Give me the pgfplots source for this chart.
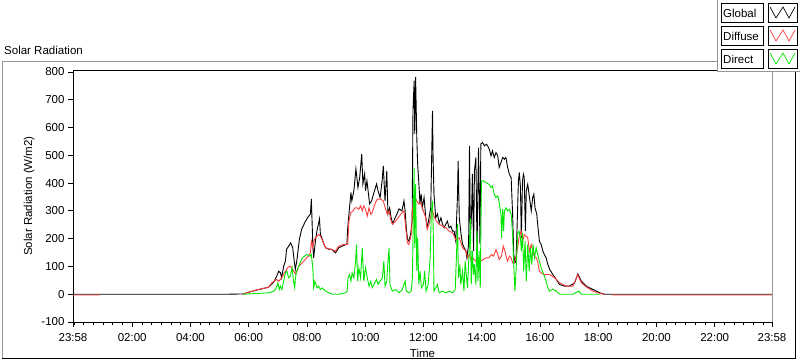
\documentclass[border=0pt]{standalone}
\usepackage{pgfplots}
\pgfplotsset{compat=1.18}
\usepackage{fontspec}
\setmainfont{Liberation Sans}
\definecolor{lvred}{RGB}{255,60,60}
\definecolor{lvgreen}{RGB}{0,230,0}
\definecolor{framegray}{RGB}{150,150,150}

\pgfplotstableread{
h v
-0.0333 0
5.30 0
5.82 1
5.99 7
6.34 17
6.68 25
6.86 44
6.96 65
7.03 83
7.09 77
7.13 59
7.20 101
7.26 119
7.30 162
7.37 173
7.44 185
7.51 167
7.57 113
7.60 90
7.65 119
7.74 198
7.82 235
7.95 263
8.04 278
8.12 289
8.15 343
8.20 180
8.23 131
8.29 191
8.34 227
8.43 271
8.46 217
8.51 203
8.58 180
8.64 167
8.75 162
8.85 162
8.98 149
9.09 167
9.20 173
9.37 180
9.40 239
9.46 311
9.51 366
9.54 336
9.61 372
9.68 451
9.75 384
9.81 420
9.88 505
9.92 397
9.98 433
10.01 372
10.06 408
10.15 325
10.22 336
10.30 366
10.39 397
10.44 372
10.51 348
10.58 408
10.62 462
10.68 336
10.74 444
10.78 289
10.84 311
10.89 275
10.95 253
11.01 271
11.09 289
11.16 307
11.26 300
11.33 336
11.37 300
11.41 239
11.45 198
11.50 191
11.56 217
11.61 263
11.64 660
11.68 769
11.70 577
11.73 781
11.77 564
11.80 469
11.85 384
11.88 325
11.92 361
11.96 311
12.02 348
12.08 275
12.13 239
12.19 275
12.25 311
12.31 660
12.33 492
12.36 361
12.42 275
12.48 289
12.54 257
12.60 275
12.65 253
12.71 239
12.77 253
12.82 263
12.88 239
12.94 245
13.00 227
13.05 227
13.11 191
13.17 361
13.19 480
13.23 275
13.29 217
13.34 180
13.40 167
13.46 155
13.49 131
13.55 180
13.58 534
13.61 203
13.65 289
13.68 433
13.72 155
13.75 444
13.80 492
13.84 155
13.87 397
13.89 528
13.94 180
13.97 541
14.03 546
14.09 534
14.17 540
14.26 522
14.32 498
14.37 516
14.43 492
14.49 510
14.55 498
14.60 456
14.66 474
14.72 492
14.78 486
14.83 492
14.89 456
14.95 432
15.01 420
15.06 289
15.10 144
15.14 113
15.18 119
15.21 227
15.26 408
15.29 438
15.33 384
15.36 203
15.40 408
15.43 432
15.46 420
15.50 227
15.53 372
15.58 396
15.64 348
15.70 300
15.75 348
15.79 360
15.83 311
15.89 288
15.92 253
15.98 191
16.04 179
16.10 155
16.15 143
16.21 131
16.27 107
16.33 90
16.44 71
16.56 53
16.67 35
16.84 29
17.01 29
17.19 41
17.30 73
17.42 47
17.59 29
17.82 17
18.05 5
18.22 0
23.9667 0
}\globaldata

\pgfplotstableread{
h v
-0.0333 -3
0.90 -3
nan nan
5.82 1
5.99 7
6.34 17
6.68 25
6.79 41
6.96 53
7.03 47
7.13 59
7.26 83
7.35 97
7.43 101
7.49 93
7.55 83
7.60 73
7.66 83
7.72 101
7.83 112
7.95 126
8.06 139
8.12 149
8.15 191
8.20 167
8.23 191
8.29 203
8.35 209
8.40 215
8.46 209
8.52 197
8.64 167
8.86 161
8.98 155
9.09 173
9.27 179
9.40 179
9.44 263
9.50 293
9.58 300
9.65 311
9.72 311
9.78 306
9.84 318
9.90 300
9.95 318
10.01 306
10.07 281
10.13 311
10.19 288
10.24 293
10.33 324
10.41 342
10.53 342
10.62 336
10.70 306
10.76 288
10.82 300
10.87 270
10.93 252
11.05 263
11.22 288
11.33 300
11.39 239
11.45 185
11.50 179
11.58 215
11.64 324
11.70 348
11.77 336
11.85 324
11.90 329
11.96 311
12.08 275
12.13 234
12.19 252
12.25 281
12.31 300
12.36 281
12.44 263
12.54 252
12.65 245
12.77 239
12.88 227
13.00 221
13.11 197
13.23 203
13.34 167
13.46 155
13.52 131
13.57 143
13.63 125
13.68 131
13.74 125
13.80 119
13.86 107
13.91 131
13.97 119
14.05 125
14.15 131
14.24 131
14.34 143
14.41 137
14.49 161
14.55 143
14.60 125
14.68 137
14.74 173
14.80 155
14.85 131
14.89 119
14.95 137
15.01 131
15.06 113
15.12 113
15.19 143
15.23 167
15.29 209
15.35 227
15.41 191
15.46 215
15.58 203
15.64 155
15.70 179
15.75 155
15.81 137
15.87 131
15.92 119
15.98 83
16.04 77
16.15 71
16.27 71
16.33 71
16.50 59
16.67 41
16.90 29
17.13 29
17.25 59
17.30 69
17.42 41
17.59 26
17.82 11
18.05 3
18.22 0
nan nan
18.46 -3
23.9667 -3
}\diffusedata

\pgfplotstableread{
h v
5.82 0
6.68 5
6.86 11
6.91 17
6.97 29
7.00 41
7.05 17
7.09 29
7.14 17
7.20 47
7.26 77
7.31 83
7.37 59
7.43 65
7.49 95
7.54 47
7.58 23
7.60 53
7.64 83
7.68 89
7.74 107
7.81 125
7.89 135
8.00 143
8.10 137
8.15 143
8.20 95
8.23 23
8.27 47
8.31 35
8.35 23
8.40 29
8.46 17
8.52 23
8.64 11
8.86 0
9.09 0
9.32 5
9.38 11
9.41 59
9.46 71
9.51 47
9.55 77
9.61 59
9.67 119
9.70 179
9.74 47
9.78 95
9.84 59
9.90 167
9.95 47
10.01 95
10.07 59
10.13 29
10.19 47
10.24 23
10.30 35
10.39 53
10.44 35
10.51 47
10.59 59
10.64 119
10.68 29
10.74 47
10.78 119
10.82 167
10.85 35
10.93 11
11.05 17
11.16 5
11.27 17
11.37 47
11.41 11
11.50 5
11.58 11
11.62 59
11.64 203
11.68 456
11.70 167
11.73 396
11.77 83
11.80 203
11.84 35
11.88 83
11.93 23
12.00 35
12.04 83
12.09 11
12.16 35
12.23 131
12.27 300
12.31 336
12.34 203
12.36 11
12.42 23
12.48 35
12.54 5
12.65 11
12.77 5
12.88 11
13.00 5
13.09 17
13.13 131
13.17 252
13.20 59
13.25 107
13.28 35
13.34 83
13.39 11
13.43 119
13.48 59
13.51 23
13.57 155
13.61 275
13.64 35
13.68 155
13.72 71
13.75 107
13.80 35
13.84 227
13.87 47
13.91 155
13.95 23
13.99 408
14.05 408
14.15 402
14.24 396
14.32 384
14.37 390
14.43 360
14.49 348
14.55 354
14.60 330
14.66 288
14.68 203
14.72 306
14.75 227
14.78 300
14.83 311
14.89 300
14.95 306
15.01 288
15.06 215
15.10 107
15.14 11
15.19 107
15.23 215
15.28 227
15.33 203
15.36 155
15.40 221
15.44 83
15.49 191
15.53 47
15.58 179
15.63 83
15.67 167
15.72 107
15.76 179
15.81 131
15.87 167
15.92 143
15.98 119
16.04 95
16.13 71
16.21 47
16.27 23
16.33 11
16.44 18
16.56 11
16.67 0
17.13 0
17.27 8
17.34 11
17.42 0
18.05 0
}\directdata

\begin{document}
\begin{tikzpicture}[x=1pt,y=1pt]
\path[use as bounding box] (0,0) rectangle (800,361);
% outer panel frame
\draw[framegray, line width=1pt] (717,299) -- (2,299) -- (2,2);
\draw[black, line width=1pt] (2,2) -- (795,2) -- (795,289);
\node[anchor=base west, font=\fontsize{11.5}{13}\selectfont, inner sep=0] at (4,306) {Solar Radiation};

\begin{axis}[
  at={(73pt,39pt)}, anchor=south west, scale only axis,
  width=699pt, height=252pt,
  xmin=-0.0333, xmax=23.9667, ymin=-100, ymax=807,
  axis line style={black, line width=0.8pt},
  every tick/.style={black, line width=0.8pt},
  major tick length=5pt, minor tick length=3pt,
  tick align=outside,
  xtick pos=bottom, ytick pos=left,
  xtick={-0.0333,2,4,6,8,10,12,14,16,18,20,22,23.9667},
  xticklabels={23:58,02:00,04:00,06:00,08:00,10:00,12:00,14:00,16:00,18:00,20:00,22:00,23:58},
  minor xtick={0,0.33333,...,23.8},
  ytick={-100,0,100,200,300,400,500,600,700,800},
  yticklabel style={/pgf/number format/assume math mode=true},
  xticklabel style={yshift=-3pt},
  ticklabel style={font=\fontsize{11.5}{13}\selectfont},
  label style={font=\fontsize{11.5}{13}\selectfont},
  xlabel={Time},
  ylabel={Solar Radiation (W/m2)},
  xlabel style={yshift=-1pt},
  unbounded coords=jump,
  after end axis/.code={
    \draw[framegray, line width=0.8pt] (rel axis cs:1,0) -- (rel axis cs:1,1);
  },
]
\addplot[black, line width=0.9pt, mark=none] table[x=h,y=v] {\globaldata};
\addplot[lvred, line width=0.9pt, mark=none] table[x=h,y=v] {\diffusedata};
\addplot[lvgreen, line width=0.9pt, mark=none] table[x=h,y=v] {\directdata};
\end{axis}

% legend panel
\fill[white] (717,289) rectangle (800,361);
\draw[framegray, line width=1pt] (717,361) -- (717,289) -- (800,289);
\foreach \yb/\lab/\col in {339/Global/black, 316/Diffuse/lvred, 293/Direct/lvgreen}{
  \draw[black, line width=0.8pt] (721,\yb) rectangle (763,\yb+19);
  \node[anchor=base west, inner sep=0, font=\fontsize{11.5}{13}\selectfont] at (723,\yb+4.5) {\lab};
  \draw[black, line width=0.8pt] (768,\yb) rectangle (797,\yb+19);
  \draw[\col, line width=0.7pt] (770,\yb+15) -- (776,\yb+4) -- (783,\yb+15) -- (789,\yb+4) -- (795,\yb+15);
}
\end{tikzpicture}
\end{document}
